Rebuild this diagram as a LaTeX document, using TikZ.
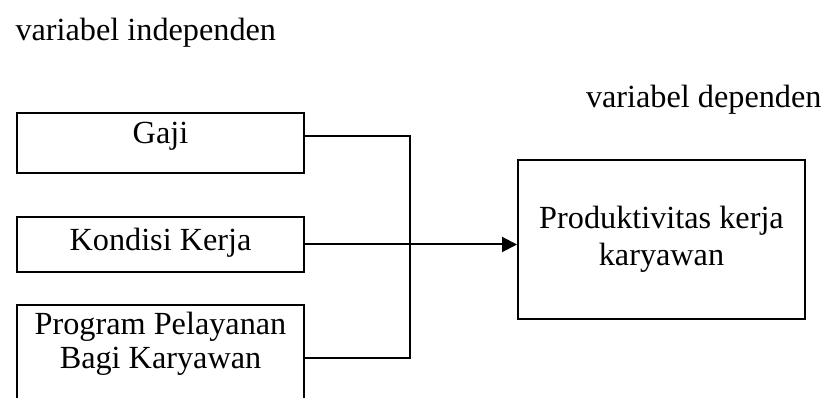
\documentclass[tikz,border=0pt]{standalone}
\usepackage{fontspec}
\setmainfont{Liberation Serif}
\usetikzlibrary{arrows.meta}
\tikzset{
  varbox/.style={draw, line width=0.8pt, minimum width=114.8pt, inner sep=0pt},
  varlabel/.style={anchor=base, inner sep=0pt},
}
\begin{document}
\begin{tikzpicture}[x=0.4pt, y=-0.4pt, >={Triangle[length=6pt,width=6pt]}, font=\fontsize{12.9}{14}\selectfont]
            \clip (0,0) rectangle (826,398);
            \node[anchor=base west, inner sep=0pt] (indep) at (15,41) {variabel independen};
            \node[anchor=base east, inner sep=0pt] (dep) at (822,108) {variabel dependen};
            \node[varbox, minimum height=24pt] (gaji) at (160.5,143) {};
            \node[varlabel] (gajitxt) at (160.5,144) {Gaji};
            \node[varbox, minimum height=22pt] (kondisi) at (160.5,244.5) {};
            \node[varlabel] (kondisitxt) at (160.5,251) {Kondisi Kerja};
            \node[varbox, minimum height=46pt] (program) at (160.5,362.5) {};
            \node[varlabel] (programtxt) at (160.5,335) {Program Pelayanan};
            \node[varlabel] (programtxtb) at (160.5,369) {Bagi Karyawan};
            \node[varbox, minimum height=63.6pt, align=center] (hasil) at (661.5,239.5)
                {Produktivitas kerja\\[1pt] karyawan};
            \coordinate (jtop) at (410,136);
            \coordinate (jbot) at (410,358);
            \draw[line width=0.8pt] (gaji.east |- jtop) -- (jtop) -- (jbot) -- (program.east |- jbot);
            \draw[line width=0.8pt, ->] (kondisi.east) -- (hasil.west |- kondisi.east);
        \end{tikzpicture}
\end{document}
